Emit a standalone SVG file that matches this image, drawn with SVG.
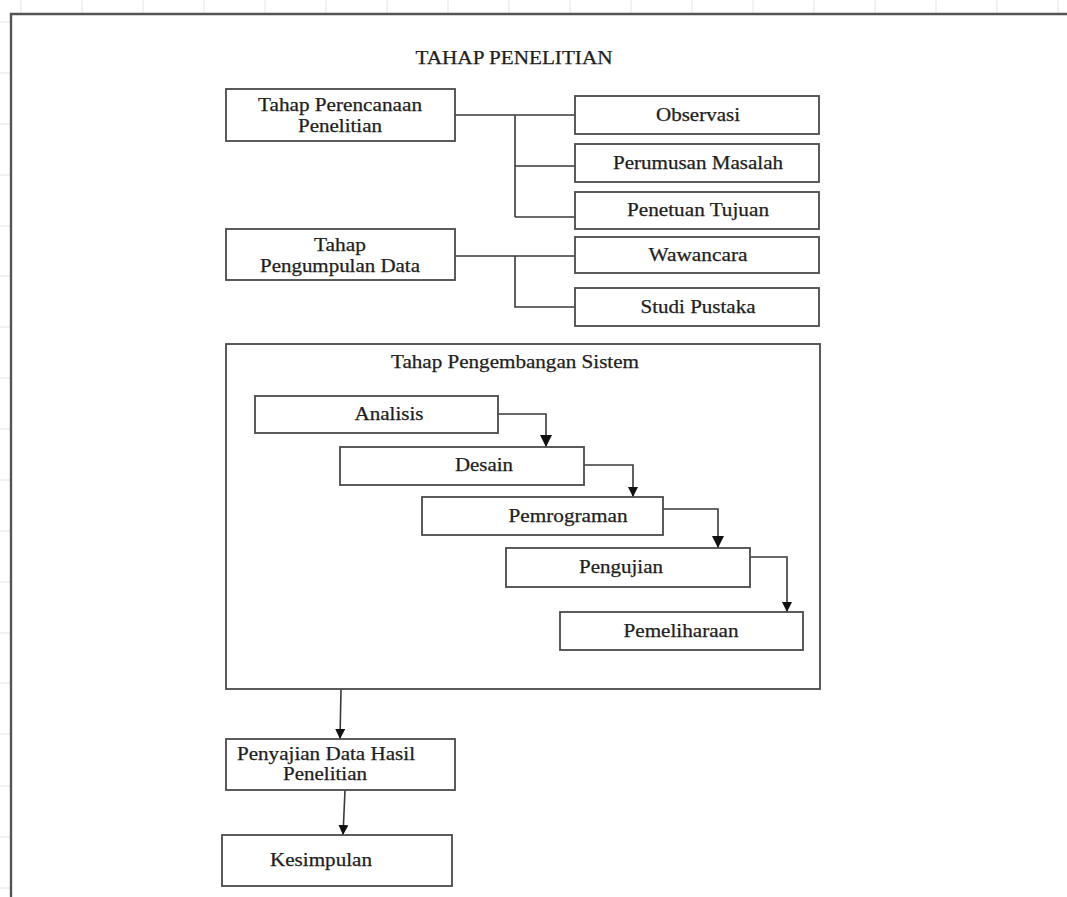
<svg xmlns="http://www.w3.org/2000/svg" width="1067" height="897" viewBox="0 0 1067 897">
<defs>
<style>
.grid{stroke:#e4e4e4;stroke-width:1;fill:none}
.box{fill:#fff;stroke:#4a4a4a;stroke-width:1.8}
.ln{fill:none;stroke:#3a3a3a;stroke-width:1.6}
.t{font-family:"Liberation Serif","Times New Roman",serif;font-size:18px;fill:#1e1e1e;stroke:#1e1e1e;stroke-width:0.25;text-anchor:middle}
</style>
<marker id="ah" viewBox="0 0 10 10" refX="10" refY="5" markerWidth="10" markerHeight="10" markerUnits="userSpaceOnUse" orient="auto">
<path d="M0,0 L10,5 L0,10 z" fill="#111"/>
</marker>
<marker id="ahL" viewBox="0 0 10 10" refX="10" refY="5" markerWidth="12" markerHeight="13" markerUnits="userSpaceOnUse" orient="auto">
<path d="M0,0 L10,5 L0,10 z" fill="#111"/>
</marker>
</defs>
<rect width="1067" height="897" fill="#fff"/>
<g id="grid" class="grid">
<path d="M21,0V13M82,0V13M143,0V13M204,0V13M265,0V13M326,0V13M387,0V13M448,0V13M509,0V13M570,0V13M631,0V13M692,0V13M753,0V13M814,0V13M875,0V13M936,0V13M997,0V13M1058,0V13"/>
<path d="M0,22H10M0,73H10M0,124H10M0,175H10M0,226H10M0,276H10M0,327H10M0,378H10M0,429H10M0,480H10M0,531H10M0,582H10M0,633H10M0,683H10M0,734H10M0,786H10M0,837H10M0,888H10"/>
</g>
<path id="page" d="M11,897V14H1067" fill="none" stroke="#555" stroke-width="2.4"/>
<text id="title" class="t" x="514" y="64" textLength="197" lengthAdjust="spacingAndGlyphs">TAHAP PENELITIAN</text>
<g id="connectors">
<path class="ln" d="M455,115H575M515,115V217M515,166H575M515,217H575"/>
<path class="ln" d="M455,256H575M515,256V307H575"/>
<path class="ln" d="M498,414H546V447" marker-end="url(#ahL)"/>
<path class="ln" d="M584,465H633V497" marker-end="url(#ah)"/>
<path class="ln" d="M663,509H718V548" marker-end="url(#ahL)"/>
<path class="ln" d="M750,557H787V612" marker-end="url(#ah)"/>
<path class="ln" d="M341,689L340,739" marker-end="url(#ah)"/>
<path class="ln" d="M345,790L343,835" marker-end="url(#ah)"/>
</g>
<g id="n-perencanaan"><rect class="box" x="226" y="89" width="229" height="52"/>
<text class="t" x="340" y="111" textLength="164" lengthAdjust="spacingAndGlyphs">Tahap Perencanaan</text>
<text class="t" x="340" y="132" textLength="84" lengthAdjust="spacingAndGlyphs">Penelitian</text></g>
<g id="n-observasi"><rect class="box" x="575" y="96" width="244" height="38"/>
<text class="t" x="698" y="121" textLength="84" lengthAdjust="spacingAndGlyphs">Observasi</text></g>
<g id="n-perumusan"><rect class="box" x="575" y="144" width="244" height="38"/>
<text class="t" x="698" y="169" textLength="170" lengthAdjust="spacingAndGlyphs">Perumusan Masalah</text></g>
<g id="n-penetuan"><rect class="box" x="575" y="192" width="244" height="37"/>
<text class="t" x="698" y="216" textLength="142" lengthAdjust="spacingAndGlyphs">Penetuan Tujuan</text></g>
<g id="n-pengumpulan"><rect class="box" x="226" y="229" width="229" height="51"/>
<text class="t" x="340" y="251" textLength="52" lengthAdjust="spacingAndGlyphs">Tahap</text>
<text class="t" x="340" y="272" textLength="160" lengthAdjust="spacingAndGlyphs">Pengumpulan Data</text></g>
<g id="n-wawancara"><rect class="box" x="575" y="237" width="244" height="36"/>
<text class="t" x="698" y="261" textLength="99" lengthAdjust="spacingAndGlyphs">Wawancara</text></g>
<g id="n-studi"><rect class="box" x="575" y="288" width="244" height="38"/>
<text class="t" x="698" y="313" textLength="115" lengthAdjust="spacingAndGlyphs">Studi Pustaka</text></g>
<g id="n-pengembangan"><rect class="box" x="226" y="344" width="594" height="345" style="fill:none"/>
<text class="t" x="515" y="368" textLength="248" lengthAdjust="spacingAndGlyphs">Tahap Pengembangan Sistem</text></g>
<g id="n-analisis"><rect class="box" x="255" y="396" width="243" height="37"/>
<text class="t" x="389" y="420" textLength="69" lengthAdjust="spacingAndGlyphs">Analisis</text></g>
<g id="n-desain"><rect class="box" x="340" y="447" width="244" height="38"/>
<text class="t" x="484" y="471" textLength="58" lengthAdjust="spacingAndGlyphs">Desain</text></g>
<g id="n-pemrograman"><rect class="box" x="422" y="497" width="241" height="38"/>
<text class="t" x="568" y="522" textLength="119" lengthAdjust="spacingAndGlyphs">Pemrograman</text></g>
<g id="n-pengujian"><rect class="box" x="506" y="548" width="244" height="39"/>
<text class="t" x="621" y="573" textLength="84" lengthAdjust="spacingAndGlyphs">Pengujian</text></g>
<g id="n-pemeliharaan"><rect class="box" x="560" y="612" width="243" height="38"/>
<text class="t" x="681" y="637" textLength="115" lengthAdjust="spacingAndGlyphs">Pemeliharaan</text></g>
<g id="n-penyajian"><rect class="box" x="226" y="739" width="229" height="51"/>
<text class="t" x="326" y="760" textLength="178" lengthAdjust="spacingAndGlyphs">Penyajian Data Hasil</text>
<text class="t" x="325" y="780" textLength="84" lengthAdjust="spacingAndGlyphs">Penelitian</text></g>
<g id="n-kesimpulan"><rect class="box" x="222" y="835" width="230" height="51"/>
<text class="t" x="321" y="866" textLength="102" lengthAdjust="spacingAndGlyphs">Kesimpulan</text></g>
</svg>
